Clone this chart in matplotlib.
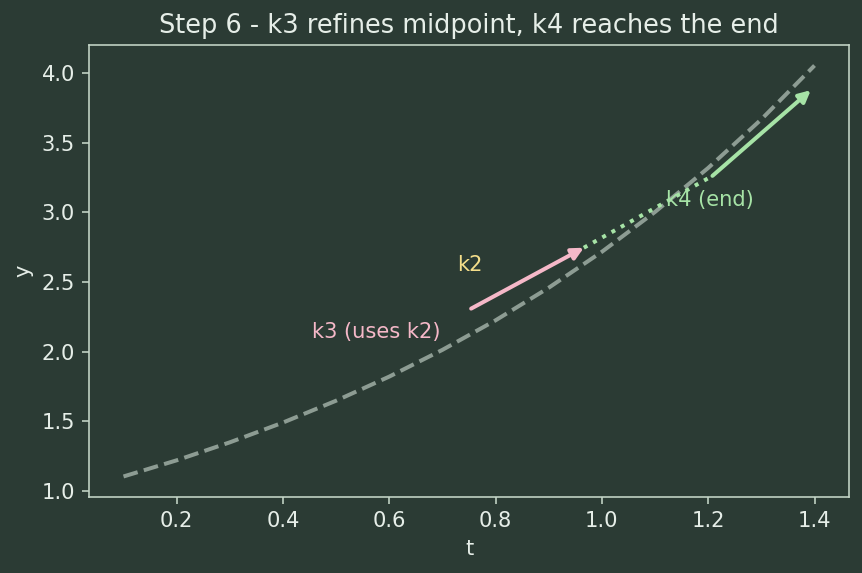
import matplotlib.pyplot as plt
import numpy as np

# --- data ---
t_curve = [0.1, 0.2, 0.3, 0.4, 0.5, 0.6, 0.7, 0.8, 0.9, 1.0, 1.1, 1.2, 1.3, 1.4]
y_curve = [1.105, 1.221, 1.350, 1.492, 1.649, 1.822, 2.014, 2.226, 2.460, 2.718, 3.004, 3.320, 3.669, 4.055]

k3_start = (0.754, 2.31)
k3_end = (0.966, 2.747)
dot_t = [0.966, 1.208]
dot_y = [2.747, 3.263]
k4_start = (1.208, 3.263)
k4_end = (1.393, 3.878)

labels = ["k2", "k3 (uses k2)", "k4 (end)"]
label_pos = [(0.727, 2.62), (0.455, 2.14), (1.12, 3.09)]

BG = "#2b3b34"
FG = "#e6eee8"
SPINE = "#c5d6c8"
PINK = "#f5b8c8"
GREEN = "#a6e3a6"
YELLOW = "#f4de8a"
CURVE = "#8d9c93"

fig, ax = plt.subplots(figsize=(862 / 144, 573 / 144), dpi=144)
fig.patch.set_facecolor(BG)
ax.set_facecolor(BG)
plt.subplots_adjust(left=0.1032, right=0.985, top=0.9215, bottom=0.1326)

ax.plot(t_curve, y_curve, "--", color=CURVE, lw=2)

ax.annotate("", xy=k3_end, xytext=k3_start,
            arrowprops=dict(arrowstyle="-|>", color=PINK, lw=2, mutation_scale=12,
                            shrinkA=0, shrinkB=0))
ax.plot(dot_t, dot_y, ":", color=GREEN, lw=2)
ax.annotate("", xy=k4_end, xytext=k4_start,
            arrowprops=dict(arrowstyle="-|>", color=GREEN, lw=2, mutation_scale=12,
                            shrinkA=0, shrinkB=0))

for txt, (x, y), c in zip(labels, label_pos, [YELLOW, PINK, GREEN]):
    ax.text(x, y, txt, color=c, fontsize=10.5, va="center", ha="left")

ax.set_title("Step 6 - k3 refines midpoint, k4 reaches the end", color=FG, fontsize=12.8)
ax.set_xlabel("t", color=FG, fontsize=10.5)
ax.set_ylabel("y", color=FG, fontsize=10.5)
ax.tick_params(colors=SPINE, labelcolor=FG, labelsize=10.5)
for s in ax.spines.values():
    s.set_color(SPINE)

fig.savefig("out.png", dpi=144, facecolor=BG)
